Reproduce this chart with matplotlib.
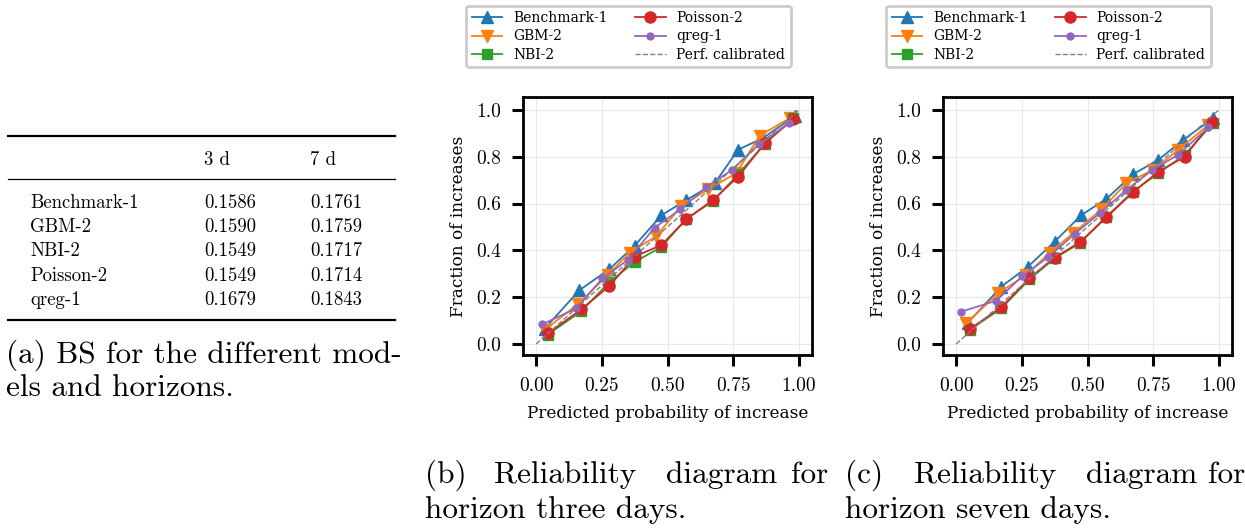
import matplotlib
matplotlib.use("Agg")
import matplotlib.pyplot as plt

# Brier scores table
models = ["Benchmark-1", "GBM-2", "NBI-2", "Poisson-2", "qreg-1"]
horizons = ["3 d", "7 d"]
bs_3d = ["0.1586", "0.1590", "0.1549", "0.1549", "0.1679"]
bs_7d = ["0.1761", "0.1759", "0.1717", "0.1714", "0.1843"]

# reliability curves, horizon 3 days
bench3_x = [0.032, 0.165, 0.279, 0.375, 0.477, 0.572, 0.680, 0.769, 0.864, 0.985]
bench3_y = [0.065, 0.23, 0.32, 0.42, 0.55, 0.615, 0.687, 0.83, 0.88, 0.975]
gbm3_x = [0.032, 0.159, 0.273, 0.356, 0.457, 0.553, 0.654, 0.762, 0.851, 0.966]
gbm3_y = [0.06, 0.17, 0.295, 0.39, 0.46, 0.59, 0.66, 0.73, 0.89, 0.965]
nbi3_x = [0.044, 0.172, 0.279, 0.375, 0.477, 0.572, 0.673, 0.769, 0.870, 0.978]
nbi3_y = [0.04, 0.14, 0.265, 0.35, 0.415, 0.535, 0.61, 0.725, 0.855, 0.965]
poi3_x = [0.044, 0.172, 0.279, 0.375, 0.477, 0.572, 0.673, 0.769, 0.870, 0.978]
poi3_y = [0.045, 0.148, 0.248, 0.373, 0.423, 0.533, 0.615, 0.715, 0.857, 0.96]
qreg3_x = [0.023, 0.153, 0.252, 0.349, 0.451, 0.549, 0.648, 0.747, 0.849, 0.963]
qreg3_y = [0.084, 0.152, 0.28, 0.359, 0.497, 0.575, 0.67, 0.745, 0.855, 0.943]

# reliability curves, horizon 7 days
bench7_x = [0.044, 0.172, 0.273, 0.375, 0.477, 0.572, 0.673, 0.769, 0.864, 0.978]
bench7_y = [0.09, 0.245, 0.33, 0.437, 0.551, 0.62, 0.725, 0.786, 0.872, 0.964]
gbm7_x = [0.038, 0.159, 0.267, 0.356, 0.445, 0.553, 0.648, 0.750, 0.845, 0.960]
gbm7_y = [0.088, 0.216, 0.295, 0.39, 0.473, 0.575, 0.687, 0.744, 0.829, 0.936]
nbi7_x = [0.051, 0.172, 0.279, 0.375, 0.470, 0.572, 0.673, 0.769, 0.870, 0.978]
nbi7_y = [0.06, 0.152, 0.276, 0.366, 0.43, 0.544, 0.651, 0.729, 0.808, 0.943]
poi7_x = [0.051, 0.172, 0.279, 0.375, 0.470, 0.572, 0.673, 0.769, 0.870, 0.972]
poi7_y = [0.063, 0.157, 0.281, 0.369, 0.434, 0.541, 0.648, 0.735, 0.80, 0.947]
qreg7_x = [0.019, 0.153, 0.252, 0.349, 0.451, 0.549, 0.648, 0.747, 0.845, 0.960]
qreg7_y = [0.138, 0.185, 0.29, 0.37, 0.47, 0.561, 0.658, 0.744, 0.808, 0.926]

x_ticks = [0.0, 0.25, 0.5, 0.75, 1.0]
y_ticks = [0.0, 0.2, 0.4, 0.6, 0.8, 1.0]

styles = [
    dict(color="tab:blue", marker="^", ms=8),
    dict(color="tab:orange", marker="v", ms=8),
    dict(color="tab:green", marker="s", ms=6.5),
    dict(color="tab:red", marker="o", ms=8),
    dict(color="tab:purple", marker="o", ms=5),
]

W, H = 1245, 528
fig = plt.figure(figsize=(W / 100, H / 100), dpi=100)


def fy(px):
    return 1 - px / H


def draw_reliability(ax, curves):
    for name, (xs, ys), st in zip(models, curves, styles):
        ax.plot(xs, ys, label=name, lw=1.3, **st)
    ax.plot([0, 1], [0, 1], ls="--", color="gray", lw=1, label="Perf. calibrated")
    ax.set_xlim(-0.05, 1.05)
    ax.set_ylim(-0.047, 1.055)
    ax.set_xticks(x_ticks)
    ax.set_xticklabels(["%.2f" % t for t in x_ticks])
    ax.set_yticks(y_ticks)
    ax.set_yticklabels(["%.1f" % t for t in y_ticks])
    ax.grid(True, color="#e8e8e8", lw=0.8)
    ax.set_axisbelow(True)
    for s in ax.spines.values():
        s.set_linewidth(2)
    ax.tick_params(direction="out", length=8, width=2.2, pad=8,
                   labelsize=14, labelfontfamily="cmr10")
    ax.set_xlabel("Predicted probability of increase", family="DejaVu Serif",
                  fontsize=12.2, labelpad=7)
    ax.set_ylabel("Fraction of increases", family="DejaVu Serif",
                  fontsize=12.2, labelpad=6)
    ax.legend(ncol=2, loc="lower center", bbox_to_anchor=(0.365, 1.089),
              prop={"family": "DejaVu Serif", "size": 10},
              frameon=True, fancybox=True, edgecolor="#cccccc",
              framealpha=1, labelspacing=0.3, handlelength=2.2,
              handletextpad=0.75, columnspacing=2.0, borderpad=0.4
              ).get_frame().set_linewidth(2)


ax_b = fig.add_axes([523 / W, 1 - 355 / H, 289 / W, 258 / H])
draw_reliability(ax_b, [(bench3_x, bench3_y), (gbm3_x, gbm3_y), (nbi3_x, nbi3_y),
                        (poi3_x, poi3_y), (qreg3_x, qreg3_y)])
ax_c = fig.add_axes([943 / W, 1 - 355 / H, 289 / W, 258 / H])
draw_reliability(ax_c, [(bench7_x, bench7_y), (gbm7_x, gbm7_y), (nbi7_x, nbi7_y),
                        (poi7_x, poi7_y), (qreg7_x, qreg7_y)])

# table (a)
tab = dict(family="cmr10", fontsize=13.5, va="baseline")
fig.add_artist(plt.Line2D([8 / W, 395 / W], [fy(136)] * 2, color="black", lw=1.6))
fig.add_artist(plt.Line2D([8 / W, 395 / W], [fy(179)] * 2, color="black", lw=0.9))
fig.add_artist(plt.Line2D([8 / W, 395 / W], [fy(320)] * 2, color="black", lw=1.6))
fig.text(204 / W, fy(165), horizons[0], **tab)
fig.text(310 / W, fy(165), horizons[1], **tab)
for i, name in enumerate(models):
    yb = fy(207.7 + 24.3 * i)
    fig.text(30 / W, yb, name, **tab)
    fig.text(204 / W, yb, bs_3d[i], **tab)
    fig.text(310 / W, yb, bs_7d[i], **tab)

# captions
cap = dict(family="cmr10", fontsize=22.5, va="baseline")
fig.text(6 / W, fy(363), "(a) BS for the different mod-", **cap)
fig.text(6 / W, fy(396), "els and horizons.", **cap)
for word, x in [("(b)", 425), ("Reliability", 494), ("diagram", 666), ("for", 791)]:
    fig.text(x / W, fy(483), word, **cap)
fig.text(425 / W, fy(518), "horizon three days.", **cap)
for word, x in [("(c)", 845), ("Reliability", 914), ("diagram", 1086), ("for", 1208)]:
    fig.text(x / W, fy(483), word, **cap)
fig.text(845 / W, fy(518), "horizon seven days.", **cap)

fig.savefig("out.png", dpi=100)
